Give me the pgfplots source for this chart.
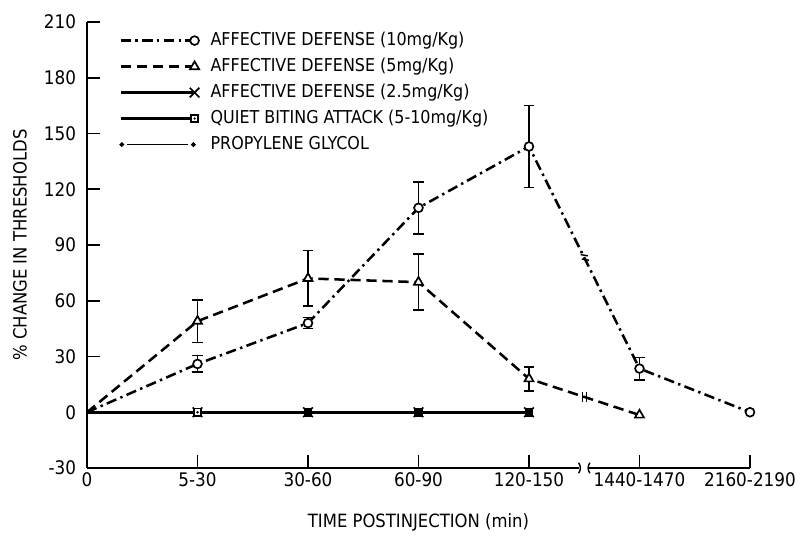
\documentclass[border=0pt]{standalone}
\usepackage{fontspec}
\setmainfont{DejaVu Sans Condensed}
\usepackage{pgfplots}
\pgfplotsset{compat=1.18}

% square with a dot in the middle
\pgfdeclareplotmark{sqdot}{%
  \pgfpathrectangle{\pgfpoint{-\pgfplotmarksize}{-\pgfplotmarksize}}{\pgfpoint{2\pgfplotmarksize}{2\pgfplotmarksize}}%
  \pgfusepathqfillstroke
  \pgfsetfillcolor{black}%
  \pgfpathcircle{\pgfpointorigin}{0.35\pgfplotmarksize}%
  \pgfusepathqfill}

\begin{document}
\begin{tikzpicture}
\path[use as bounding box] (-21.75mm,-17.25mm) rectangle (178.75mm,117mm);
\begin{axis}[
  scale only axis,
  width=165.75mm, height=111.5mm,
  xmin=0, xmax=6, ymin=-30, ymax=210,
  axis x line=bottom, axis y line=left,
  axis line style={-, line width=2pt},
  xtick={0,...,6},
  xticklabels={0,5-30,30-60,60-90,120-150,1440-1470,2160-2190},
  ytick={-30,0,30,...,210},
  tick align=inside, major tick length=3.2mm,
  tick style={line width=1.3pt, black},
  /pgf/number format/assume math mode=true,
  ticklabel style={font=\fontsize{13.3}{14}\selectfont},
  yticklabel style={xshift=-1.5mm},
  xlabel={TIME POSTINJECTION (min)},
  ylabel={\% CHANGE IN THRESHOLDS},
  label style={font=\fontsize{13}{14}\selectfont},
  xlabel style={at={(axis description cs:0.5,0)}, anchor=center, yshift=-13.5mm},
  ylabel style={at={(axis description cs:0,0.5)}, anchor=center, yshift=16.75mm},
  clip=false,
  every axis plot/.append style={line width=1.8pt, black},
  error bars/error bar style={line width=1.2pt, solid},
  error bars/error mark options={rotate=90, line width=1.2pt, mark size=1.3mm, solid},
  legend image code/.code={\draw[#1] plot coordinates {(0mm,0mm) (18.5mm,0mm)};},
  legend cell align=left,
  legend style={at={(axis cs:0.29,205)}, anchor=north west, draw=none, fill=none,
    inner sep=0pt, row sep=2mm,
    font=\fontsize{12.6}{13}\selectfont,
    nodes={text height=3mm, text depth=0.5mm, inner sep=0.5mm},
    /tikz/every odd column/.append style={column sep=2.3mm}},
]

% error bars, drawn below the curves
\addplot[forget plot, draw=none, mark=none,
  error bars/.cd, y dir=both, y explicit]
  coordinates {
  (1,26) +- (0,4.5)
  (2,48) +- (0,3)
  (3,110) +- (0,14)
  (4,143) +- (0,22)
  (5,23.5) +- (0,6)
};
\addplot[forget plot, draw=none, mark=none,
  error bars/.cd, y dir=both, y explicit]
  coordinates {
  (1,49) +- (0,11.5)
  (2,72) +- (0,15)
  (3,70) +- (0,15)
  (4,18) +- (0,6.5)
};

% affective defense 10 mg/kg
\addplot[dash pattern=on 2.6mm off 1.1mm on 0.6mm off 1.1mm,
  mark=*, mark indices={2,3,4,5,6,7}, mark size=1.1mm,
  mark options={solid, line width=1.2pt, fill=white}]
  coordinates {(0,0) (1,26) (2,48) (3,110) (4,143) (5,23.5) (6,0)};
\addlegendentry{AFFECTIVE DEFENSE (10mg/Kg)}

% affective defense 5 mg/kg
\addplot[dash pattern=on 2.6mm off 1.4mm,
  mark=triangle*, mark indices={2,3,4,5,6}, mark size=1.3mm,
  mark options={solid, line width=1.2pt, fill=white}]
  coordinates {(0,0) (1,49) (2,72) (3,70) (4,18) (5,-1.5)};
\addlegendentry{AFFECTIVE DEFENSE (5mg/Kg)}

% affective defense 2.5 mg/kg
\addplot[solid, mark=x, mark indices={2,3,4,5}, mark size=1.7mm,
  mark options={line width=1.2pt}]
  coordinates {(0,0) (1,0) (2,0) (3,0) (4,0)};
\addlegendentry{AFFECTIVE DEFENSE (2.5mg/Kg)}

% quiet biting attack 5-10 mg/kg
\addplot[solid, mark=sqdot, mark indices={2,3,4,5}, mark size=0.9mm,
  mark options={line width=1.1pt, fill=white}]
  coordinates {(0,0) (1,0) (2,0) (3,0) (4,0)};
\addlegendentry{QUIET BITING ATTACK (5-10mg/Kg)}

% propylene glycol
\addplot[line width=0.8pt,
  legend image code/.code={
    \draw[line width=0.8pt] (1.6mm,0mm) -- (16.9mm,0mm);
    \fill (0.3mm,0mm) circle (0.45mm);
    \fill (18.2mm,0mm) circle (0.45mm);}]
  coordinates {(0,0) (4,0)};
\addlegendentry{PROPYLENE GLYCOL}

% break in the time axis
\fill[white] ([xshift=-1.3mm,yshift=-1.5mm]axis cs:4.5,-30) rectangle ([xshift=1.3mm,yshift=1.5mm]axis cs:4.5,-30);
\draw[line width=1pt] ([xshift=-1.4mm,yshift=-1.3mm]axis cs:4.5,-30) to[bend right=35] ([xshift=-1.4mm,yshift=1.3mm]axis cs:4.5,-30);
\draw[line width=1pt] ([xshift=1.4mm,yshift=-1.3mm]axis cs:4.5,-30) to[bend left=35] ([xshift=1.4mm,yshift=1.3mm]axis cs:4.5,-30);

% break marks on the curves
\draw[line width=1pt] ([xshift=-0.9mm,yshift=0.5mm]axis cs:4.5,83.75) -- ([xshift=0.9mm,yshift=0.2mm]axis cs:4.5,83.75);
\draw[line width=1pt] ([xshift=-0.6mm,yshift=-0.6mm]axis cs:4.5,83.75) -- ([xshift=1.2mm,yshift=-0.9mm]axis cs:4.5,83.75);
\draw[line width=1pt] ([xshift=-0.5mm,yshift=-1.2mm]axis cs:4.5,8.25) -- ([xshift=-0.5mm,yshift=1.2mm]axis cs:4.5,8.25);
\draw[line width=1pt] ([xshift=0.5mm,yshift=-1.2mm]axis cs:4.5,8.25) -- ([xshift=0.5mm,yshift=1.2mm]axis cs:4.5,8.25);
\end{axis}
\end{tikzpicture}
\end{document}
